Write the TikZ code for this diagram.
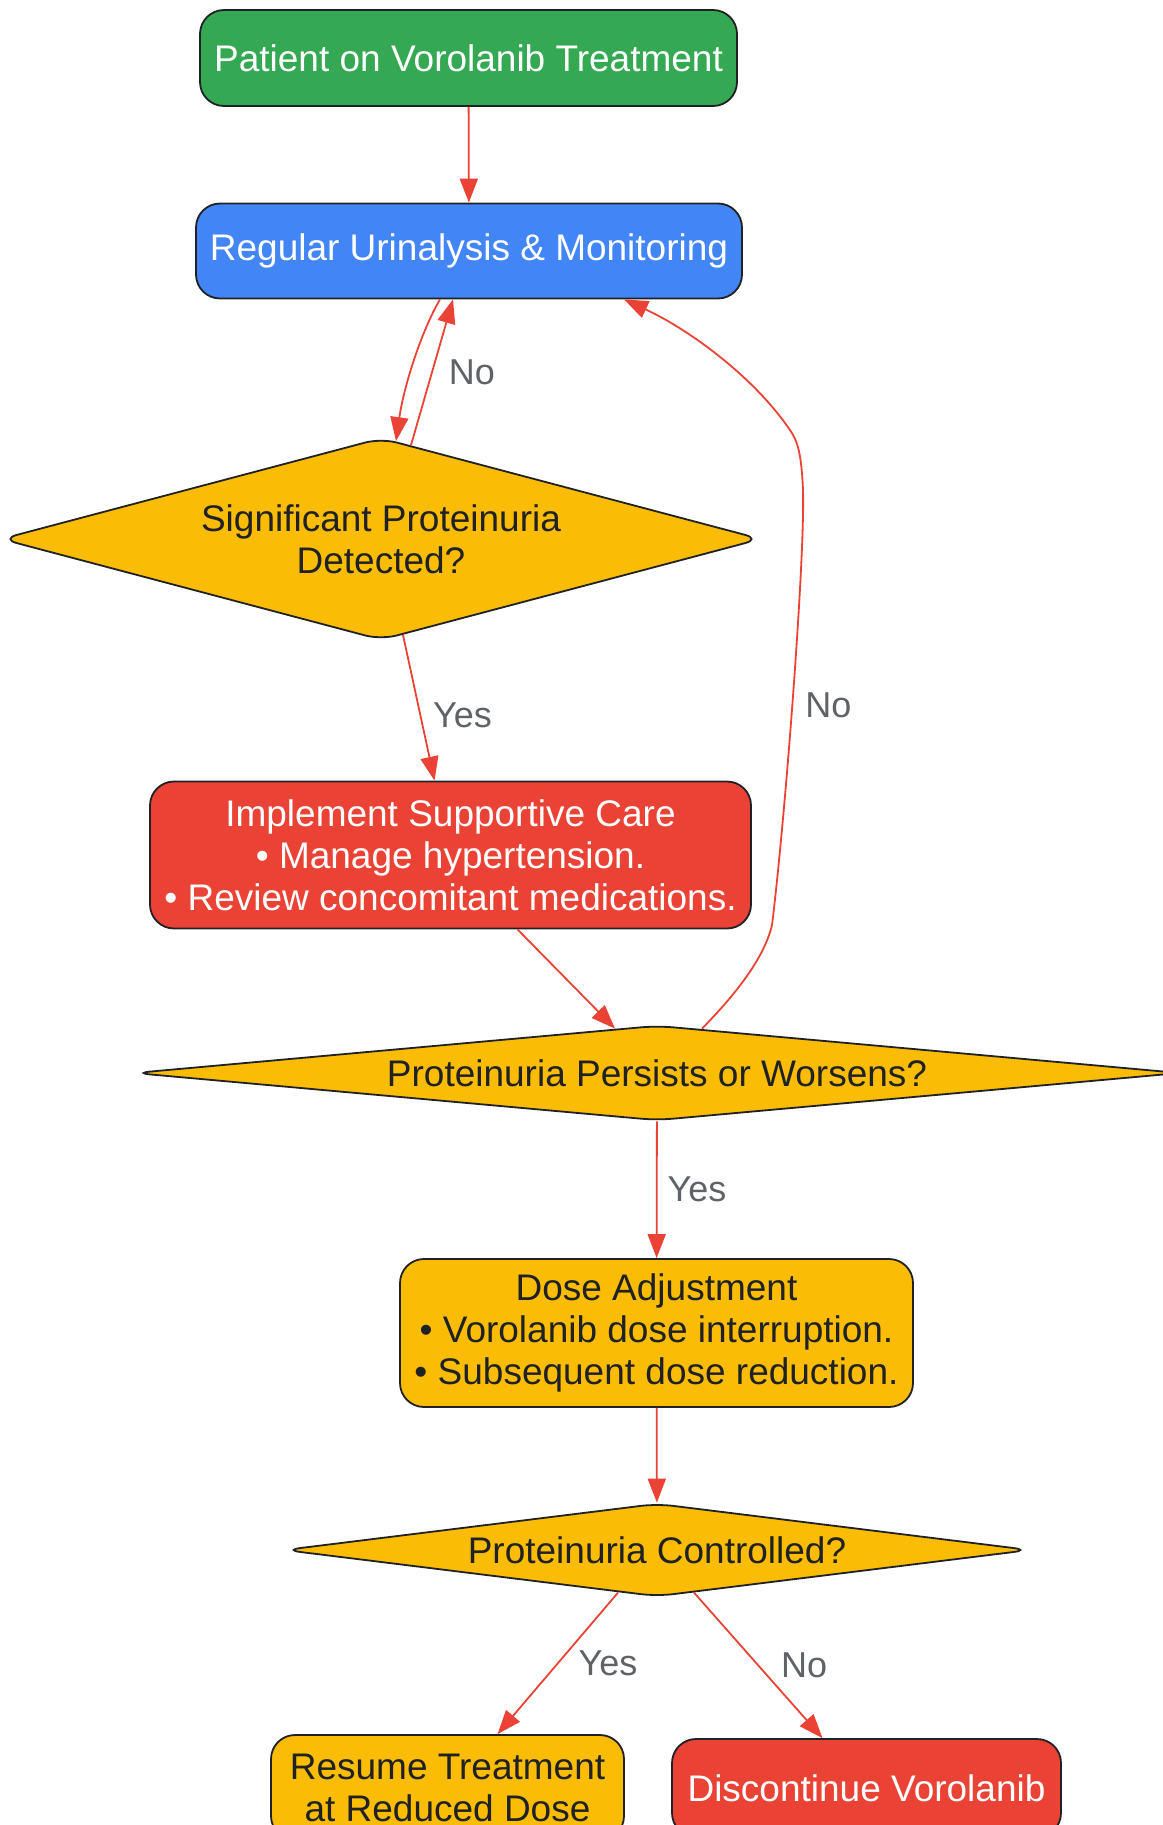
\documentclass[tikz,border=0pt]{standalone}
\usepackage{fontspec}
\setmainfont{Liberation Sans}
\usetikzlibrary{shapes.geometric,arrows.meta}
\definecolor{gGreen}{HTML}{34A853}
\definecolor{gBlue}{HTML}{4285F4}
\definecolor{gYellow}{HTML}{FBBC05}
\definecolor{gRed}{HTML}{EA4335}
\definecolor{gInk}{HTML}{202124}
\definecolor{gGrey}{HTML}{5F6368}
\begin{document}
\begin{tikzpicture}[x=0.5pt, y=-0.5pt,
    box/.style={draw=gInk, line width=0.9pt, rounded corners=12pt, align=center,
      font=\fontsize{18.5}{21}\selectfont, inner sep=0pt},
    dec/.style={draw=gInk, line width=0.9pt, diamond, rounded corners=8pt, align=center,
      fill=gYellow, text=gInk, font=\fontsize{18.5}{21}\selectfont, inner sep=0pt},
    flow/.style={draw=gRed, line width=0.9pt, -{Triangle[length=12pt, width=9pt]}},
    lbl/.style={text=gGrey, font=\fontsize{18}{21}\selectfont, inner sep=0pt}]
    \useasboundingbox (0,0) rectangle (1162,1825);
    \node[box, fill=gGreen, text=white, minimum width=268.5pt, minimum height=48pt] (start) at (468.5,58) {Patient on Vorolanib Treatment};
    \node[box, fill=gBlue, text=white, minimum width=273pt, minimum height=47.5pt] (monitor) at (469,251) {Regular Urinalysis \& Monitoring};
    \node[dec, aspect=3.73, minimum width=380pt, minimum height=101pt] (dec1) at (381,539) {Significant Proteinuria\\Detected?};
    \node[box, fill=gRed, text=white, minimum width=300.5pt, minimum height=73.5pt] (support) at (450.5,855) {Implement Supportive Care\\• Manage hypertension.\\• Review concomitant medications.};
    \node[dec, aspect=11.07, minimum width=523pt, minimum height=47.5pt] (dec2) at (657,1073) {Proteinuria Persists or Worsens?};
    \node[box, fill=gYellow, text=gInk, minimum width=256.5pt, minimum height=74pt] (dose) at (656.5,1333) {Dose Adjustment\\• Vorolanib dose interruption.\\• Subsequent dose reduction.};
    \node[dec, aspect=8.02, minimum width=373pt, minimum height=46.5pt] (dec3) at (657,1550) {Proteinuria Controlled?};
    \node[box, fill=gYellow, text=gInk, minimum width=176.5pt, minimum height=52.5pt] (resume) at (447.5,1787.5) {Resume Treatment\\at Reduced Dose};
    \node[box, fill=gRed, text=white, minimum width=194.5pt, minimum height=49pt] (stop) at (866.5,1788) {Discontinue Vorolanib};

    \draw[flow] (start) -- (monitor);
    \draw[flow] ([xshift=-14.5pt]monitor.south) .. controls (422,330) and (404,385) .. ([xshift=7.5pt,yshift=-2pt]dec1.north);
    \draw[flow] ([xshift=15pt,yshift=-4pt]dec1.north) -- node[lbl, right=8pt] {No} ([xshift=-8pt]monitor.south);
    \draw[flow] ([xshift=11pt,yshift=3pt]dec1.south) -- node[lbl, right=6pt, pos=0.55] {Yes} ([xshift=-8pt]support.north);
    \draw[flow] ([xshift=33.5pt]support.south) -- ([xshift=-21pt,yshift=-2pt]dec2.north);
    \draw[flow] ([xshift=22.5pt,yshift=-2pt]dec2.north) .. controls (740,990) and (765,955) .. (772,925)
        .. controls (785,820) and (805,560) .. node[lbl, right=6pt, pos=0.48] {No} (803,490)
        .. controls (801,445) and (796,438) .. (785,423)
        .. controls (750,375) and (690,330) .. ([xshift=77.5pt]monitor.south);
    \draw[flow] (dec2) -- node[lbl, right=5pt] {Yes} (dose);
    \draw[flow] (dose) -- (dec3);
    \draw[flow] ([xshift=-19.5pt,yshift=2.4pt]dec3.south) -- node[lbl, right=10pt] {Yes} ([xshift=25pt]resume.north);
    \draw[flow] ([xshift=18.5pt,yshift=2.4pt]dec3.south) -- node[lbl, right=11pt] {No} ([xshift=-22pt]stop.north);
\end{tikzpicture}
\end{document}
